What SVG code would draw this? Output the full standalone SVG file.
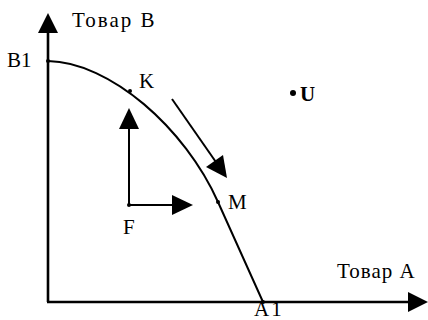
<svg xmlns="http://www.w3.org/2000/svg" width="428" height="320" viewBox="0 0 428 320">
<style>
.ln{stroke:#000;fill:none;stroke-width:2}
.ax{stroke:#000;fill:none;stroke-width:2.6}
.t{font-family:"Liberation Serif",serif;font-size:21px;fill:#000}
.ah{fill:#000}
</style>
<rect width="428" height="320" fill="#fff"/>
<g id="connectors">
<line class="ax" x1="48" y1="302" x2="48" y2="30"/>
<polygon class="ah" points="48,13 38,33 58,33"/>
<line class="ax" x1="47" y1="302" x2="412" y2="302"/>
<polygon class="ah" points="428,302 408,292 408,312"/>
<path class="ln" d="M48,61 C110,62 185,128 218,202 L263,302"/>
<line class="ln" x1="129" y1="206" x2="129" y2="125"/>
<polygon class="ah" points="129,108 119,129 139,129"/>
<line class="ln" x1="129" y1="205" x2="175" y2="205"/>
<polygon class="ah" points="193,205 172,195 172,215"/>
<line class="ln" x1="172" y1="99" x2="218" y2="165"/>
<polygon class="ah" points="227,178 206,167 223,155"/>
</g>
<g id="axisB"><text class="t" x="72" y="27" font-size="22" letter-spacing="2">Товар  B</text></g>
<g id="axisA"><text class="t" x="337" y="278" font-size="23" letter-spacing="1">Товар A</text></g>
<g id="B1"><circle cx="48" cy="61" r="2"/><text class="t" x="7" y="67">B1</text></g>
<g id="K"><circle cx="130" cy="91" r="2"/><text class="t" x="139" y="88">K</text></g>
<g id="M"><circle cx="218" cy="202" r="2"/><text class="t" x="228" y="209">M</text></g>
<g id="A1"><circle cx="263" cy="302" r="2"/><text class="t" x="254" y="316" font-size="14" letter-spacing="2">A1</text></g>
<g id="F"><circle cx="129" cy="205" r="2"/><text class="t" x="123" y="234">F</text></g>
<g id="U"><circle cx="293" cy="93" r="3"/><text class="t" x="300" y="101" font-weight="bold">U</text></g>
</svg>
